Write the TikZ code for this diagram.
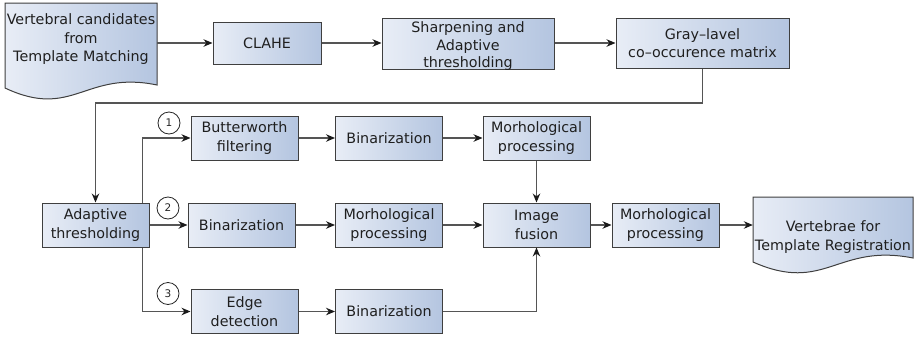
\documentclass[tikz,border=0pt]{standalone}
\usepackage{fontspec}
\setmainfont{DejaVu Sans}
\usetikzlibrary{arrows.meta,calc}

\definecolor{boxlight}{HTML}{E8EDF6}
\definecolor{boxdark}{HTML}{B4C5E0}
\definecolor{edgegray}{HTML}{3F3F3F}
\definecolor{linegray}{HTML}{555555}
\definecolor{tipblack}{HTML}{1A1A1A}

\newcommand\diagfont{\fontsize{14.3}{18.5}\selectfont}
\newcommand\tightfont{\fontsize{14.3}{17.5}\selectfont}
\newcommand\markfont{\fontsize{10.5}{12}\selectfont}

\tikzset{
  procbox/.style={draw=edgegray, line width=1pt, left color=boxlight,
    right color=boxdark, inner sep=0pt, align=center,
    minimum width=107pt, minimum height=44pt, font=\diagfont, text=black!88},
  doctext/.style={inner sep=0pt, align=center, font=\diagfont, text=black!88},
  docshape/.style={draw=edgegray, line width=1pt, left color=boxlight,
    right color=boxdark},
  flow/.style={draw=linegray, line width=1.1pt,
    -{Stealth[length=9pt,width=7.5pt,color=tipblack]}},
  marker/.style={circle, draw=black!85, line width=0.8pt, fill=white,
    minimum size=22pt, inner sep=0pt, font=\markfont, text=black!85}
}

\begin{document}
\begin{tikzpicture}[x=1pt,y=-1pt]
\useasboundingbox (0,0) rectangle (916,338);

% document-shaped input and output
\path[docshape] (5,3) -- (157,3) -- (157,85)
  .. controls (85,70) and (73,120) .. (5,88) -- cycle;
\node[doctext, minimum width=152pt] (src) at (81,39.5)
  {Vertebral candidates\\from\\Template Matching};

\path[docshape] (753,197) -- (913,197) -- (913,258)
  .. controls (837,243) and (825,294) .. (753,262) -- cycle;
\node[doctext, minimum width=160pt] (dst) at (833,237)
  {Vertebrae for\\Template Registration};

% top row
\node[procbox, minimum width=108pt, minimum height=42pt] (clahe) at (267,43) {CLAHE};
\node[procbox, minimum width=172pt, minimum height=51pt] (sharp) at (468,43.5) {};
\node[doctext, font=\tightfont] (sharptext) at ([yshift=-3pt]sharp.center)
  {Sharpening and\\Adaptive\\thresholding};
\node[procbox, minimum width=173pt, minimum height=50pt] (glcm) at (702.5,43)
  {Gray–lavel\\co–occurence matrix};

% three branches
\node[procbox] (adapt) at (95.5,225) {Adaptive\\thresholding};

\node[procbox] (butter) at (244.5,138) {Butterworth\\filtering};
\node[procbox] (bin1) at (389,138) {Binarization};
\node[procbox] (morph1) at (536.5,138) {Morhological\\processing};

\node[procbox] (bin2) at (241.5,225) {Binarization};
\node[procbox] (morph2) at (389,225) {Morhological\\processing};
\node[procbox] (fuse) at (536.5,225) {Image\\fusion};
\node[procbox] (morph3) at (665.5,225) {Morhological\\processing};

\node[procbox] (edge) at (244.5,311.5) {Edge\\detection};
\node[procbox] (bin3) at (389,311.5) {Binarization};

% branch numbers
\node[marker] (m1) at (169,123) {1};
\node[marker] (m2) at (168,208) {2};
\node[marker] (m3) at (168,293.5) {3};

% connectors
\draw[flow] (src.east |- clahe.west) -- (clahe.west);
\draw[flow] (clahe.east) -- (clahe.east -| sharp.west);
\draw[flow] (sharp.east |- glcm.west) -- (glcm.west);

\coordinate (fbturn) at (95.5,103);
\draw[flow] (glcm.south) |- (fbturn) -- (adapt.north);

\draw[flow] ([xshift=-7pt]adapt.north east) |- (butter.west);
\draw[flow] (adapt.east) -- (bin2.west);
\draw[flow] ([xshift=-7pt]adapt.south east) |- (edge.west);

\draw[flow] (butter.east) -- (bin1.west);
\draw[flow] (bin1.east) -- (morph1.west);
\draw[flow] (morph1.south) -- (fuse.north);

\draw[flow] (bin2.east) -- (morph2.west);
\draw[flow] (morph2.east) -- (fuse.west);

\draw[flow] (edge.east) -- (bin3.west);
\draw[flow] (bin3.east) -| (fuse.south);

\draw[flow] (fuse.east) -- (morph3.west);
\draw[flow] (morph3.east) -- (morph3.east -| dst.west);
\end{tikzpicture}
\end{document}
